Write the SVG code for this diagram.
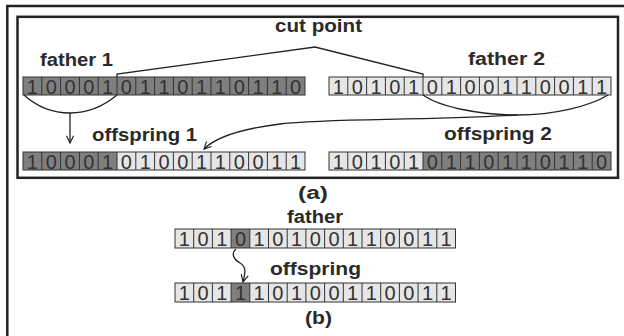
<svg xmlns="http://www.w3.org/2000/svg" width="624" height="336" viewBox="0 0 624 336">
<defs>
<marker id="vh" viewBox="0 0 10 10" refX="9" refY="5" markerWidth="9" markerHeight="9" markerUnits="userSpaceOnUse" orient="auto">
<path d="M1,1 L9,5 L1,9" fill="none" stroke="#222" stroke-width="1.3"/>
</marker>
<style>
.lbl{font-family:"Liberation Sans",Arial,sans-serif;font-weight:bold;font-size:18px;fill:#2a2a2a;}
.dig{font-family:"Liberation Sans",Arial,sans-serif;font-size:20px;fill:#333;text-anchor:middle;}
.dk{fill:#7f7f7f;}
.lt{fill:#e6e6e6;}
.grid{fill:none;stroke:#333;stroke-width:1;}
.frame{fill:none;stroke:#222;stroke-width:2.5;}
.conn{fill:none;stroke:#222;stroke-width:1.3;}
</style>
</defs>
<rect width="624" height="336" fill="#fff"/>
<path class="frame" d="M7.3,336 V6 H624"/>
<rect class="frame" x="17.5" y="16.8" width="600.5" height="161"/>

<g id="label-cut-point"><text class="lbl" x="275" y="32" textLength="87" lengthAdjust="spacingAndGlyphs">cut point</text></g>
<g id="label-father1"><text class="lbl" x="40" y="66" textLength="73" lengthAdjust="spacingAndGlyphs">father 1</text></g>
<g id="label-father2"><text class="lbl" x="468" y="65" textLength="77" lengthAdjust="spacingAndGlyphs">father 2</text></g>
<g id="label-offspring1"><text class="lbl" x="92" y="141" textLength="105" lengthAdjust="spacingAndGlyphs">offspring 1</text></g>
<g id="label-offspring2"><text class="lbl" x="444" y="140" textLength="108" lengthAdjust="spacingAndGlyphs">offspring 2</text></g>
<g id="label-a"><text class="lbl" x="298" y="199" textLength="30" lengthAdjust="spacingAndGlyphs">(a)</text></g>
<g id="label-father-b"><text class="lbl" x="287" y="223" textLength="56" lengthAdjust="spacingAndGlyphs">father</text></g>
<g id="label-offspring-b"><text class="lbl" x="270" y="275" textLength="91" lengthAdjust="spacingAndGlyphs">offspring</text></g>
<g id="label-b"><text class="lbl" x="305" y="324" textLength="27" lengthAdjust="spacingAndGlyphs">(b)</text></g>

<g id="father1">
<rect class="dk" x="23" y="77" width="282" height="18"/>
<rect class="grid" x="23" y="77" width="282" height="18"/>
<path class="grid" d="M41.8,77v18M60.6,77v18M79.4,77v18M98.2,77v18M117,77v18M135.8,77v18M154.6,77v18M173.4,77v18M192.2,77v18M211,77v18M229.8,77v18M248.6,77v18M267.4,77v18M286.2,77v18"/>
<text class="dig" x="32.4 51.2 70 88.8 107.6 126.4 145.2 164 182.8 201.6 220.4 239.2 258 276.8 295.6" y="93.5">100010110110110</text>
</g>

<g id="father2">
<rect class="lt" x="329" y="77" width="282" height="18"/>
<rect class="grid" x="329" y="77" width="282" height="18"/>
<path class="grid" d="M347.8,77v18M366.6,77v18M385.4,77v18M404.2,77v18M423,77v18M441.8,77v18M460.6,77v18M479.4,77v18M498.2,77v18M517,77v18M535.8,77v18M554.6,77v18M573.4,77v18M592.2,77v18"/>
<text class="dig" x="338.4 357.2 376 394.8 413.6 432.4 451.2 470 488.8 507.6 526.4 545.2 564 582.8 601.6" y="93.5">101010100110011</text>
</g>

<g id="offspring1">
<rect class="dk" x="23" y="152" width="94" height="18"/>
<rect class="lt" x="117" y="152" width="188" height="18"/>
<rect class="grid" x="23" y="152" width="282" height="18"/>
<path class="grid" d="M41.8,152v18M60.6,152v18M79.4,152v18M98.2,152v18M117,152v18M135.8,152v18M154.6,152v18M173.4,152v18M192.2,152v18M211,152v18M229.8,152v18M248.6,152v18M267.4,152v18M286.2,152v18"/>
<text class="dig" x="32.4 51.2 70 88.8 107.6 126.4 145.2 164 182.8 201.6 220.4 239.2 258 276.8 295.6" y="168.5">100010100110011</text>
</g>

<g id="offspring2">
<rect class="lt" x="329" y="152" width="94" height="18"/>
<rect class="dk" x="423" y="152" width="188" height="18"/>
<rect class="grid" x="329" y="152" width="282" height="18"/>
<path class="grid" d="M347.8,152v18M366.6,152v18M385.4,152v18M404.2,152v18M423,152v18M441.8,152v18M460.6,152v18M479.4,152v18M498.2,152v18M517,152v18M535.8,152v18M554.6,152v18M573.4,152v18M592.2,152v18"/>
<text class="dig" x="338.4 357.2 376 394.8 413.6 432.4 451.2 470 488.8 507.6 526.4 545.2 564 582.8 601.6" y="168.5">101010110110110</text>
</g>

<g id="father-b">
<rect class="lt" x="175" y="229" width="280.5" height="19"/>
<rect class="dk" x="231.1" y="229" width="18.7" height="19"/>
<rect class="grid" x="175" y="229" width="280.5" height="19"/>
<path class="grid" d="M193.7,229v19M212.4,229v19M231.1,229v19M249.8,229v19M268.5,229v19M287.2,229v19M305.9,229v19M324.6,229v19M343.3,229v19M362,229v19M380.7,229v19M399.4,229v19M418.1,229v19M436.8,229v19"/>
<text class="dig" x="184.35 203.05 221.75 240.45 259.15 277.85 296.55 315.25 333.95 352.65 371.35 390.05 408.75 427.45 446.15" y="246">101010100110011</text>
</g>

<g id="offspring-b">
<rect class="lt" x="175" y="283" width="280.5" height="19"/>
<rect class="dk" x="231.1" y="283" width="18.7" height="19"/>
<rect class="grid" x="175" y="283" width="280.5" height="19"/>
<path class="grid" d="M193.7,283v19M212.4,283v19M231.1,283v19M249.8,283v19M268.5,283v19M287.2,283v19M305.9,283v19M324.6,283v19M343.3,283v19M362,283v19M380.7,283v19M399.4,283v19M418.1,283v19M436.8,283v19"/>
<text class="dig" x="184.35 203.05 221.75 240.45 259.15 277.85 296.55 315.25 333.95 352.65 371.35 390.05 408.75 427.45 446.15" y="300">101110100110011</text>
</g>

<g id="connectors">
<path class="conn" d="M117,77 V74 L315,47 L423,74 V77"/>
<path class="conn" d="M24,95 C35,105 50,113 70,113 C90,113 105,105 117,95"/>
<path class="conn" d="M70,113 V143" marker-end="url(#vh)"/>
<path class="conn" d="M423,95 C440,107 480,115 517,115 C555,115 590,106 608,95"/>
<path class="conn" d="M517,115 C420,121 330,118 280,124 C240,129 215,138 204,149" marker-end="url(#vh)"/>
<path class="conn" d="M236,249 C231,253 233,259 240,263 C247,267 245,274 243,282" marker-end="url(#vh)"/>
</g>
</svg>
